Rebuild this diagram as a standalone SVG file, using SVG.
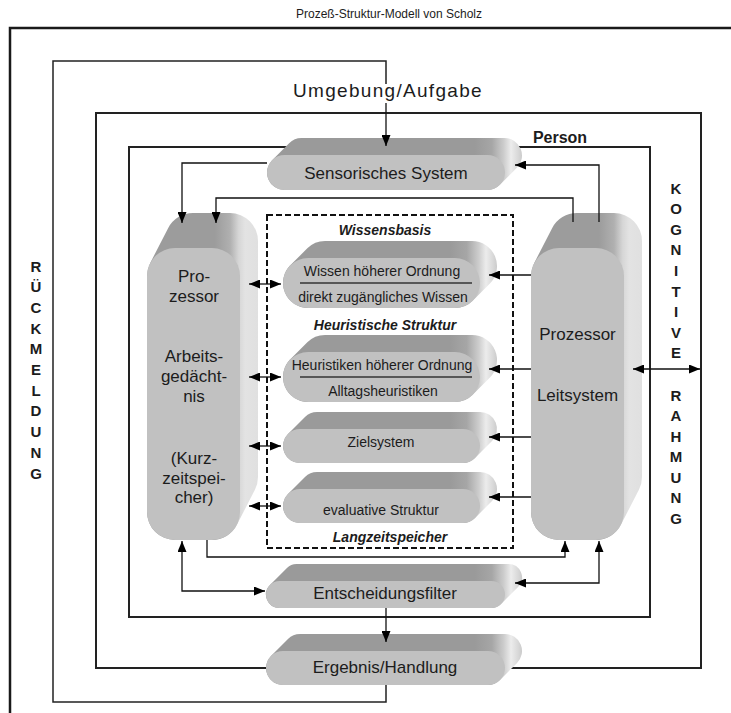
<svg xmlns="http://www.w3.org/2000/svg" width="731" height="713" viewBox="0 0 731 713">
  <defs>
    <style>
      text { font-family: "Liberation Sans", Arial, Helvetica, sans-serif; fill: #1c1c1c; text-anchor: middle; }
      .title { font-size: 12px; }
      .env { font-size: 19px; letter-spacing: 1.3px; }
      .lbl { font-size: 17px; }
      .small { font-size: 14px; }
      .bi { font-size: 14px; font-weight: bold; font-style: italic; }
      .vert { font-size: 15px; font-weight: bold; }
      .person { font-size: 16px; font-weight: bold; }
      .front { fill: #c1c1c1; }
      .pill { fill: url(#gPill); }
      .tall { fill: url(#gTall); }
      .outer { fill: none; stroke: #1a1a1a; stroke-width: 2.5; }
      .frame { fill: none; stroke: #222; stroke-width: 2; }
      .loop { fill: none; stroke: #222; stroke-width: 1.5; }
      .dash { fill: none; stroke: #111; stroke-width: 2; stroke-dasharray: 6 3; }
      .con { fill: none; stroke: #111; stroke-width: 1.3; }
      .arr { marker-end: url(#ah); }
      .dbl { marker-start: url(#ah); marker-end: url(#ah); }
      .sep { stroke: #333; stroke-width: 1.5; }
    </style>
    <!-- extrusion shading, in each box's local frame (x = 0 at the front face's right edge) -->
    <linearGradient id="gPill" gradientUnits="userSpaceOnUse" x1="-30" y1="0" x2="18" y2="0">
      <stop offset="0" stop-color="#9a9a9a"/>
      <stop offset="0.35" stop-color="#a6a6a6"/>
      <stop offset="0.6" stop-color="#cdcdcd"/>
      <stop offset="0.75" stop-color="#ececec"/>
      <stop offset="0.9" stop-color="#d8d8d8"/>
      <stop offset="1" stop-color="#c8c8c8"/>
    </linearGradient>
    <linearGradient id="gTall" gradientUnits="userSpaceOnUse" x1="-25" y1="0" x2="18" y2="0">
      <stop offset="0" stop-color="#9c9c9c"/>
      <stop offset="0.35" stop-color="#b0b0b0"/>
      <stop offset="0.55" stop-color="#d6d6d6"/>
      <stop offset="0.7" stop-color="#e3e3e3"/>
      <stop offset="1" stop-color="#e0e0e0"/>
    </linearGradient>
    <marker id="ah" markerUnits="userSpaceOnUse" markerWidth="11" markerHeight="9" refX="11" refY="4.5" orient="auto-start-reverse" viewBox="0 0 11 9">
      <path d="M0,0 L11,4.5 L0,9 Z" fill="#000"/>
    </marker>
  </defs>

  <rect width="731" height="713" fill="#fff"/>

  <text class="title" x="389" y="18">Prozeß-Struktur-Modell von Scholz</text>

  <!-- frames -->
  <g id="frames">
    <path class="outer" d="M10,713 V28 H731"/>
    <rect class="frame" x="96" y="113" width="605" height="555"/>
    <rect class="frame" x="129" y="147" width="521" height="470"/>
    <rect class="dash" x="267" y="215" width="246" height="333"/>
  </g>

  <text class="env" x="388" y="97">Umgebung/Aufgabe</text>
  <text class="person" x="560" y="143">Person</text>

  <g id="rueckmeldung">
    <text class="vert" x="36" y="271.5">R</text>
    <text class="vert" x="36" y="292.2">Ü</text>
    <text class="vert" x="36" y="312.9">C</text>
    <text class="vert" x="36" y="333.6">K</text>
    <text class="vert" x="36" y="354.3">M</text>
    <text class="vert" x="36" y="375">E</text>
    <text class="vert" x="36" y="395.7">L</text>
    <text class="vert" x="36" y="416.4">D</text>
    <text class="vert" x="36" y="437.1">U</text>
    <text class="vert" x="36" y="457.8">N</text>
    <text class="vert" x="36" y="478.5">G</text>
  </g>
  <g id="kognitive-rahmung">
    <text class="vert" x="676" y="193.5">K</text>
    <text class="vert" x="676" y="214.1">O</text>
    <text class="vert" x="676" y="234.7">G</text>
    <text class="vert" x="676" y="255.3">N</text>
    <text class="vert" x="676" y="275.9">I</text>
    <text class="vert" x="676" y="296.5">T</text>
    <text class="vert" x="676" y="317.1">I</text>
    <text class="vert" x="676" y="337.7">V</text>
    <text class="vert" x="676" y="358.3">E</text>
    <text class="vert" x="676" y="400.5">R</text>
    <text class="vert" x="676" y="421">A</text>
    <text class="vert" x="676" y="441.5">H</text>
    <text class="vert" x="676" y="462">M</text>
    <text class="vert" x="676" y="482.5">U</text>
    <text class="vert" x="676" y="503">N</text>
    <text class="vert" x="676" y="523.5">G</text>
  </g>

  <!-- nodes -->
  <g id="sensorisches-system">
    <g transform="translate(505,155)">
      <path class="pill" d="M-232.87,5.13 L-215.87,-11.87 A17.5,17.5 0 0 1 -203.5,-17 L-0.5,-17 A17.5,17.5 0 0 1 11.87,12.87 L-5.13,29.87 A17.5,17.5 0 0 1 -17.5,35 L-220.5,35 A17.5,17.5 0 0 1 -232.87,5.13 Z"/>
      <rect class="front" x="-238" y="0" width="238" height="35" rx="17.5"/>
    </g>
    <text class="lbl" x="386" y="179">Sensorisches System</text>
  </g>

  <g id="arbeitsgedaechtnis">
    <g transform="translate(240,248)">
      <path class="tall" d="M-89.9,15.2 L-71.9,-19.8 A28,28 0 0 1 -47,-35 L-10,-35 A28,28 0 0 1 18,-7 L18,229 A28,28 0 0 1 14.9,241.8 L-3.1,276.8 A28,28 0 0 1 -28,292 L-65,292 A28,28 0 0 1 -93,264 L-93,28 A28,28 0 0 1 -89.9,15.2 Z"/>
      <rect class="front" x="-93" y="0" width="93" height="292" rx="28"/>
    </g>
    <text class="lbl" x="194" y="282">Pro-</text>
    <text class="lbl" x="194" y="302">zessor</text>
    <text class="lbl" x="194" y="362">Arbeits-</text>
    <text class="lbl" x="194" y="382">gedächt-</text>
    <text class="lbl" x="194" y="402">nis</text>
    <text class="lbl" x="194" y="464">(Kurz-</text>
    <text class="lbl" x="194" y="484">zeitspei-</text>
    <text class="lbl" x="194" y="503">cher)</text>
  </g>

  <g id="leitsystem">
    <g transform="translate(624,248)">
      <path class="tall" d="M-89.9,15.2 L-71.9,-19.8 A28,28 0 0 1 -47,-35 L-10,-35 A28,28 0 0 1 18,-7 L18,229 A28,28 0 0 1 14.9,241.8 L-3.1,276.8 A28,28 0 0 1 -28,292 L-65,292 A28,28 0 0 1 -93,264 L-93,28 A28,28 0 0 1 -89.9,15.2 Z"/>
      <rect class="front" x="-93" y="0" width="93" height="292" rx="28"/>
    </g>
    <text class="lbl" x="577.5" y="340">Prozessor</text>
    <text class="lbl" x="577.5" y="401">Leitsystem</text>
  </g>

  <g id="wissensbasis">
    <text class="bi" x="385" y="235">Wissensbasis</text>
    <g transform="translate(480,258)">
      <path class="pill" d="M-189.68,7.32 L-172.68,-9.68 A25,25 0 0 1 -155,-17 L-8,-17 A25,25 0 0 1 9.68,25.68 L-7.32,42.68 A25,25 0 0 1 -25,50 L-172,50 A25,25 0 0 1 -189.68,7.32 Z"/>
      <rect class="front" x="-197" y="0" width="197" height="50" rx="25"/>
    </g>
    <text class="small" x="382" y="276">Wissen höherer Ordnung</text>
    <line class="sep" x1="300" y1="283" x2="472" y2="283"/>
    <text class="small" x="383" y="302">direkt zugängliches Wissen</text>
  </g>

  <g id="heuristische-struktur">
    <text class="bi" x="385" y="330">Heuristische Struktur</text>
    <g transform="translate(480,352)">
      <path class="pill" d="M-189.68,7.32 L-172.68,-9.68 A25,25 0 0 1 -155,-17 L-8,-17 A25,25 0 0 1 9.68,25.68 L-7.32,42.68 A25,25 0 0 1 -25,50 L-172,50 A25,25 0 0 1 -189.68,7.32 Z"/>
      <rect class="front" x="-197" y="0" width="197" height="50" rx="25"/>
    </g>
    <text class="small" x="382" y="370">Heuristiken höherer Ordnung</text>
    <line class="sep" x1="300" y1="377" x2="472" y2="377"/>
    <text class="small" x="383" y="396">Alltagsheuristiken</text>
  </g>

  <g id="zielsystem">
    <g transform="translate(480,429)">
      <path class="pill" d="M-192.02,4.98 L-175.02,-12.02 A17,17 0 0 1 -163,-17 L0,-17 A17,17 0 0 1 12.02,12.02 L-4.98,29.02 A17,17 0 0 1 -17,34 L-180,34 A17,17 0 0 1 -192.02,4.98 Z"/>
      <rect class="front" x="-197" y="0" width="197" height="34" rx="17"/>
    </g>
    <text class="small" x="381" y="447">Zielsystem</text>
  </g>

  <g id="evaluative-struktur">
    <g transform="translate(480,489)">
      <path class="pill" d="M-192.02,4.98 L-175.02,-12.02 A17,17 0 0 1 -163,-17 L0,-17 A17,17 0 0 1 12.02,12.02 L-4.98,29.02 A17,17 0 0 1 -17,34 L-180,34 A17,17 0 0 1 -192.02,4.98 Z"/>
      <rect class="front" x="-197" y="0" width="197" height="34" rx="17"/>
    </g>
    <text class="small" x="381" y="515">evaluative Struktur</text>
    <text class="bi" x="390" y="542">Langzeitspeicher</text>
  </g>

  <g id="entscheidungsfilter">
    <g transform="translate(505,581)">
      <path class="pill" d="M-235.05,3.95 L-218.05,-13.05 A13.5,13.5 0 0 1 -208.5,-17 L3.5,-17 A13.5,13.5 0 0 1 13.05,6.05 L-3.95,23.05 A13.5,13.5 0 0 1 -13.5,27 L-225.5,27 A13.5,13.5 0 0 1 -235.05,3.95 Z"/>
      <rect class="front" x="-239" y="0" width="239" height="27" rx="13.5"/>
    </g>
    <text class="lbl" x="385" y="599">Entscheidungsfilter</text>
  </g>

  <g id="ergebnis-handlung">
    <g transform="translate(505,651)">
      <path class="pill" d="M-234.02,4.98 L-217.02,-12.02 A17,17 0 0 1 -205,-17 L0,-17 A17,17 0 0 1 12.02,12.02 L-4.98,29.02 A17,17 0 0 1 -17,34 L-222,34 A17,17 0 0 1 -234.02,4.98 Z"/>
      <rect class="front" x="-239" y="0" width="239" height="34" rx="17"/>
    </g>
    <text class="lbl" x="385" y="673">Ergebnis/Handlung</text>
  </g>

  <!-- connectors -->
  <g id="connectors">
    <path class="loop" d="M386,685 V702 H53 V61 H386 V84"/>
    <path class="con arr" d="M386,103 V146"/>
    <path class="con arr" d="M267,163 H182 V223"/>
    <path class="con arr" d="M573,222 V198 H216 V223"/>
    <path class="con arr" d="M599,222 V165 H515"/>
    <path class="con dbl" d="M249,284 H281"/>
    <path class="con dbl" d="M249,377 H281"/>
    <path class="con dbl" d="M249,446 H281"/>
    <path class="con dbl" d="M249,506 H281"/>
    <path class="con arr" d="M531,275 H489"/>
    <path class="con arr" d="M531,369 H489"/>
    <path class="con arr" d="M531,437 H489"/>
    <path class="con arr" d="M531,497 H489"/>
    <path class="con arr" d="M207,540 V557 H565 V541"/>
    <path class="con dbl" d="M182,541 V591 H265"/>
    <path class="con dbl" d="M599,541 V583 H515"/>
    <path class="con arr" d="M386,608 V642"/>
    <path class="con dbl" d="M633,369 H700"/>
  </g>
</svg>
